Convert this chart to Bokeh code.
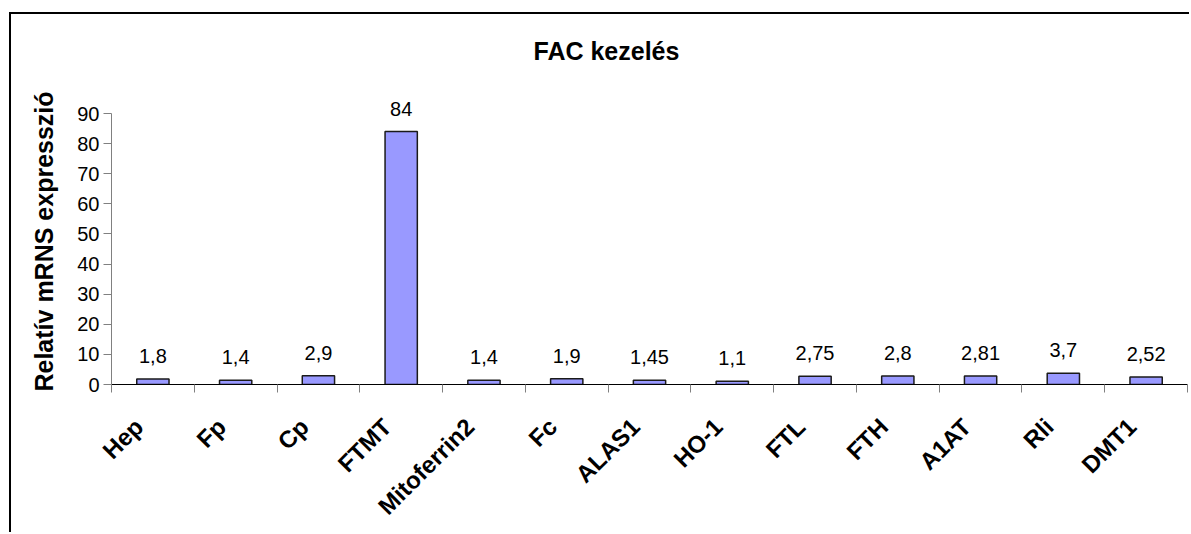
from math import pi
from bokeh.plotting import figure
from bokeh.models import Range1d, LinearAxis, FixedTicker, ColumnDataSource, LabelSet
from bokeh.embed import file_html
from bokeh.resources import INLINE
from bokeh.core.properties import value

genes = ["Hep", "Fp", "Cp", "FTMT", "Mitoferrin2", "Fc", "ALAS1", "HO-1",
         "FTL", "FTH", "A1AT", "Rli", "DMT1"]
expression = [1.8, 1.4, 2.9, 84, 1.4, 1.9, 1.45, 1.1, 2.75, 2.8, 2.81, 3.7, 2.52]
y_ticks = [0, 10, 20, 30, 40, 50, 60, 70, 80, 90]
title_text = "FAC kezelés"
y_title = "Relatív mRNS expresszió"

n = len(genes)
centers = [i + 0.5 for i in range(n)]
label_pos = [c - 0.17 for c in centers]   # rotated labels end just left of bar centre
boundaries = list(range(n + 1))
labels = [f"{v:g}".replace(".", ",") for v in expression]
src = ColumnDataSource(dict(x=centers, gene=genes, val=expression, lab=labels))

FONT = "Liberation Sans"

p = figure(width=1189, height=532, output_backend="svg", toolbar_location=None,
           x_range=Range1d(0, n), y_range=Range1d(0, 95),
           x_axis_location=None, y_axis_location=None,
           min_border_left=111, min_border_right=2, min_border_top=98,
           min_border_bottom=147)
# chart-area frame: left and top edges (the rest runs off the page)
p.styles = {
    "background-image": "linear-gradient(#000, #000), linear-gradient(#000, #000)",
    "background-size": "2px 100%, 100% 2px",
    "background-position": "9px 12px, 9px 12px",
    "background-repeat": "no-repeat",
}
p.background_fill_color = "white"
p.border_fill_color = None
p.outline_line_color = None
p.grid.visible = False

# title
p.title.text = title_text
p.title.text_font = FONT
p.title.text_font_style = "bold"
p.title.text_font_size = "25px"
p.title.text_color = "black"
p.title.align = "left"
p.title.vertical_align = "middle"
p.title.offset = 422
p.title.standoff = 66

# y axis
yax = LinearAxis(ticker=FixedTicker(ticks=y_ticks), bounds=(0, 90))
yax.axis_line_color = "#808080"
yax.major_tick_line_color = "#808080"
yax.major_tick_out = 8
yax.major_tick_in = 0
yax.minor_tick_line_color = None
yax.major_label_text_font = FONT
yax.major_label_text_font_size = "20px"
yax.major_label_text_color = "black"
yax.major_label_standoff = 4
yax.axis_label = y_title
yax.axis_label_text_font = FONT
yax.axis_label_text_font_style = "bold"
yax.axis_label_text_font_size = "25px"
yax.axis_label_text_color = "black"
yax.axis_label_standoff = 16
p.add_layout(yax, "left")

# category axis: labels near centres, tick marks at category boundaries
cax = LinearAxis(ticker=FixedTicker(ticks=label_pos, minor_ticks=boundaries))
cax.major_label_overrides = {c: g for c, g in zip(label_pos, genes)}
cax.axis_line_color = "black"
cax.major_tick_line_color = None
cax.major_tick_out = 0
cax.major_tick_in = 0
cax.minor_tick_line_color = "#808080"
cax.minor_tick_out = 8
cax.minor_tick_in = 0
cax.major_label_orientation = pi / 4
cax.major_label_text_font = FONT
cax.major_label_text_font_style = "bold"
cax.major_label_text_font_size = "24px"
cax.major_label_text_color = "black"
cax.major_label_standoff = 30
p.add_layout(cax, "below")

p.vbar(x="x", top="val", bottom=0, width=0.39, source=src,
       fill_color="#9999FF", line_color="#1a1a1a", line_width=1.5)

p.add_layout(LabelSet(x="x", y="val", text="lab", source=src, text_align="center",
                      text_baseline="alphabetic", y_offset=16, text_font=value(FONT),
                      text_font_size="20px", text_color="black"))

open("out.html", "w").write(file_html(p, INLINE))
